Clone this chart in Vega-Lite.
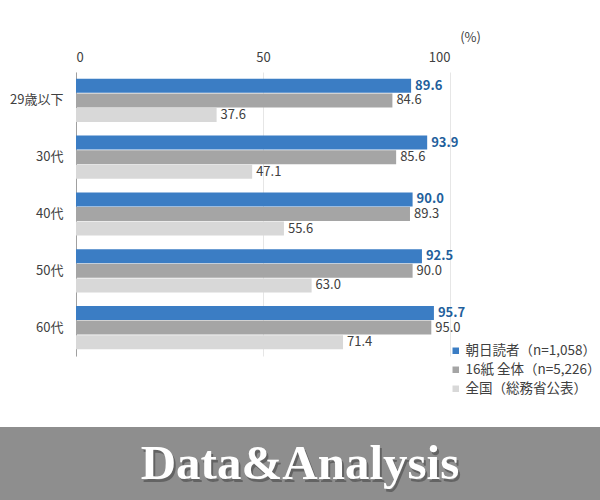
{
  "$schema": "https://vega.github.io/schema/vega-lite/v6.json",
  "padding": {"top": 31, "left": 0, "right": 0, "bottom": 0},
  "background": "white",
  "spacing": 71,
  "config": {
    "font": "Noto Sans CJK JP",
    "view": {"stroke": null}
  },
  "vconcat": [
    {
      "width": 600,
      "height": 284,
      "data": {
        "values": [
          {"age": "29歳以下", "series": "朝日読者（n=1,058）", "value": 89.6},
          {"age": "29歳以下", "series": "16紙 全体（n=5,226）", "value": 84.6},
          {"age": "29歳以下", "series": "全国（総務省公表）", "value": 37.6},
          {"age": "30代", "series": "朝日読者（n=1,058）", "value": 93.9},
          {"age": "30代", "series": "16紙 全体（n=5,226）", "value": 85.6},
          {"age": "30代", "series": "全国（総務省公表）", "value": 47.1},
          {"age": "40代", "series": "朝日読者（n=1,058）", "value": 90.0},
          {"age": "40代", "series": "16紙 全体（n=5,226）", "value": 89.3},
          {"age": "40代", "series": "全国（総務省公表）", "value": 55.6},
          {"age": "50代", "series": "朝日読者（n=1,058）", "value": 92.5},
          {"age": "50代", "series": "16紙 全体（n=5,226）", "value": 90.0},
          {"age": "50代", "series": "全国（総務省公表）", "value": 63.0},
          {"age": "60代", "series": "朝日読者（n=1,058）", "value": 95.7},
          {"age": "60代", "series": "16紙 全体（n=5,226）", "value": 95.0},
          {"age": "60代", "series": "全国（総務省公表）", "value": 71.4}
        ]
      },
      "encoding": {
        "y": {
          "field": "age",
          "type": "nominal",
          "sort": ["29歳以下", "30代", "40代", "50代", "60代"],
          "scale": {"paddingInner": 0.24, "paddingOuter": 0.12},
          "axis": {
            "title": null,
            "offset": -76,
            "ticks": false,
            "labelPadding": 13,
            "labelFontSize": 13,
            "labelColor": "#404040",
            "domainColor": "#a0a0a0"
          }
        },
        "yOffset": {
          "field": "series",
          "type": "nominal",
          "sort": ["朝日読者（n=1,058）", "16紙 全体（n=5,226）", "全国（総務省公表）"],
          "scale": {"paddingInner": 0.04}
        },
        "x": {
          "field": "value",
          "type": "quantitative",
          "scale": {"domain": [0, 100], "nice": false, "range": [76, 450]},
          "axis": {
            "orient": "top",
            "values": [0, 50, 100],
            "ticks": false,
            "domain": false,
            "labelPadding": 8,
            "labelFontSize": 13,
            "labelColor": "#404040",
            "gridColor": "#e6e6e6",
            "title": "(%)",
            "titleFontSize": 13,
            "titleFontWeight": "normal",
            "titleColor": "#404040",
            "titleX": 470,
            "titleY": -35,
            "titleAlign": "center",
            "titleBaseline": "middle"
          }
        }
      },
      "layer": [
        {
          "mark": {"type": "bar"},
          "encoding": {
            "color": {
              "field": "series",
              "type": "nominal",
              "sort": ["朝日読者（n=1,058）", "16紙 全体（n=5,226）", "全国（総務省公表）"],
              "scale": {"range": ["#3b7dc4", "#a5a5a5", "#d8d8d8"]},
              "legend": {
                "title": null,
                "orient": "none",
                "legendX": 449,
                "legendY": 272,
                "symbolType": "square",
                "symbolSize": 42,
                "symbolStrokeWidth": 0,
                "labelFontSize": 13.5,
                "labelColor": "#404040",
                "labelOffset": 3,
                "rowPadding": 4
              }
            }
          }
        },
        {
          "transform": [{"filter": "datum.series === '朝日読者（n=1,058）'"}],
          "mark": {"type": "text", "align": "left", "baseline": "middle", "dx": 4, "fontSize": 13, "fontWeight": "bold", "color": "#1f5f9c"},
          "encoding": {
            "text": {"field": "value", "type": "quantitative", "format": ".1f"}
          }
        },
        {
          "transform": [{"filter": "datum.series !== '朝日読者（n=1,058）'"}],
          "mark": {"type": "text", "align": "left", "baseline": "middle", "dx": 4, "fontSize": 13, "color": "#404040"},
          "encoding": {
            "text": {"field": "value", "type": "quantitative", "format": ".1f"}
          }
        }
      ]
    },
    {
      "width": 600,
      "height": 73,
      "view": {"fill": "#8e8e8e", "stroke": null},
      "data": {"values": [{"label": "Data&Analysis"}]},
      "layer": [
        {
          "mark": {"type": "text", "font": "Liberation Serif", "fontSize": 49, "fontWeight": "bold", "color": "#3a3a3a", "opacity": 0.5, "dx": 2, "dy": 3, "baseline": "middle"},
          "encoding": {"text": {"field": "label"}}
        },
        {
          "mark": {"type": "text", "font": "Liberation Serif", "fontSize": 49, "fontWeight": "bold", "color": "white", "baseline": "middle"},
          "encoding": {"text": {"field": "label"}}
        }
      ]
    }
  ]
}
